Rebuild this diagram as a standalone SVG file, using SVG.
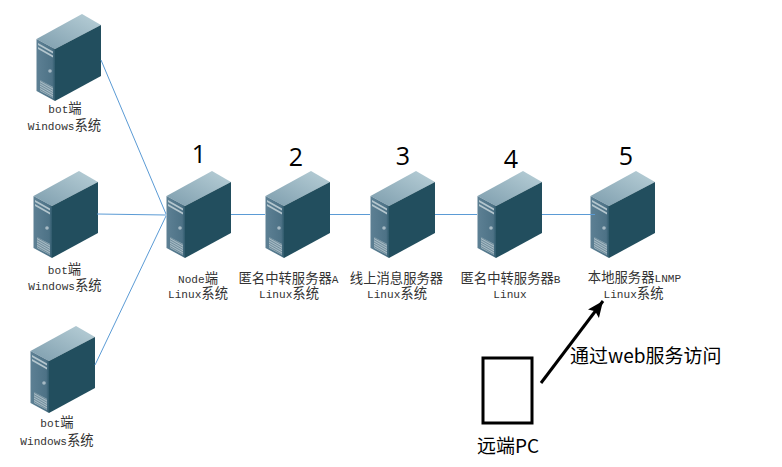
<svg xmlns="http://www.w3.org/2000/svg" width="782" height="467" viewBox="0 0 782 467">
<style>
.lb{font-family:"Liberation Mono","Noto Sans CJK SC",monospace;font-size:11.1px;fill:#333;text-anchor:middle}
.c{font-family:"Noto Sans CJK SC","Noto Sans",sans-serif;font-size:13.33px;font-weight:400}
.num{font-family:"Open Sans","Noto Sans",sans-serif;font-size:25px;fill:#000;text-anchor:middle}
.big{font-family:"Noto Sans CJK SC","Noto Sans",sans-serif;font-size:19px;fill:#000}
.link{stroke:#5b9bd5;stroke-width:1;fill:none}
</style>
<defs>
<linearGradient id="top" x1="0" y1="1" x2="1" y2="0"><stop offset="0" stop-color="#7d9dad"/><stop offset="1" stop-color="#b9d0d8"/></linearGradient>
<linearGradient id="front" x1="0" y1="0" x2="1" y2="0"><stop offset="0" stop-color="#5d8094"/><stop offset="0.85" stop-color="#4d7286"/><stop offset="1" stop-color="#2f5a6c"/></linearGradient>
<pattern id="hatch" width="2" height="2" patternUnits="userSpaceOnUse" patternTransform="rotate(30)"><rect width="2" height="2" fill="#6f8d9c"/><rect width="2" height="1" fill="#a9bcc6"/></pattern>
<marker id="ah" markerUnits="userSpaceOnUse" markerWidth="18" markerHeight="16" refX="16" refY="7" orient="auto"><path d="M0 0L16 7L0 14L3 7Z" fill="#000"/></marker>
<symbol id="srv" width="66" height="88" viewBox="0 0 66 88" overflow="visible">
<path d="M0.5 25L46 0L65 11L19 35Z" fill="url(#top)"/>
<path d="M19 35L65 11V62L19 87Z" fill="#224e5e"/>
<path d="M0.5 25L19 35V87L0.5 77Z" fill="url(#front)"/>
<path d="M2 29L17 37.5V39.5L2 31ZM2 33L17 41.5V43.5L2 35Z" fill="#b4c6ce"/>
<path d="M4 66L17 73V84L4 77Z" fill="url(#hatch)"/>
<circle cx="14" cy="57" r="1.8" fill="#a6bac4"/>
</symbol>
</defs>
<g id="bot1"><use href="#srv" x="36" y="14"/><text class="lb" x="65" y="113">bot<tspan class="c">端</tspan></text><text class="lb" x="64.500" y="130">Windows<tspan class="c">系统</tspan></text></g>
<g id="bot2"><use href="#srv" x="33" y="171"/><text class="lb" x="64.500" y="274">bot<tspan class="c">端</tspan></text><text class="lb" x="65" y="290">Windows<tspan class="c">系统</tspan></text></g>
<g id="bot3"><use href="#srv" x="30" y="326"/><text class="lb" x="57" y="427">bot<tspan class="c">端</tspan></text><text class="lb" x="57" y="445">Windows<tspan class="c">系统</tspan></text></g>
<g id="n1"><use href="#srv" x="166" y="171"/><text class="num" x="199" y="163">1</text><text class="lb" x="198" y="283">Node<tspan class="c">端</tspan></text><text class="lb" x="198" y="298">Linux<tspan class="c">系统</tspan></text></g>
<g id="n2"><use href="#srv" x="265" y="171"/><text class="num" x="296" y="166">2</text><text class="lb" x="288.500" y="283"><tspan class="c">匿名中转服务器</tspan>A</text><text class="lb" x="289" y="298">Linux<tspan class="c">系统</tspan></text></g>
<g id="n3"><use href="#srv" x="370" y="171"/><text class="num" x="403" y="165">3</text><text class="lb" x="396.500" y="283"><tspan class="c">线上消息服务器</tspan></text><text class="lb" x="397" y="298">Linux<tspan class="c">系统</tspan></text></g>
<g id="n4"><use href="#srv" x="477" y="171"/><text class="num" x="511" y="168">4</text><text class="lb" x="510.500" y="283"><tspan class="c">匿名中转服务器</tspan>B</text><text class="lb" x="510" y="298">Linux</text></g>
<g id="n5"><use href="#srv" x="590" y="171"/><text class="num" x="626" y="165">5</text><text class="lb" x="634.500" y="282"><tspan class="c">本地服务器</tspan>LNMP</text><text class="lb" x="633.500" y="298">Linux<tspan class="c">系统</tspan></text></g>
<g id="pc"><rect x="483" y="358" width="49" height="65" fill="#fff" stroke="#000" stroke-width="3"/><text class="big" x="477" y="453" font-size="19.500">远端PC</text></g>
<text class="big" x="570" y="363">通过web服务访问</text>
<g id="connectors">
<line class="link" x1="101" y1="60" x2="166" y2="214"/>
<line class="link" x1="97" y1="214" x2="166" y2="215"/>
<line class="link" x1="95" y1="365" x2="166" y2="216"/>
<line class="link" x1="231" y1="214.500" x2="265" y2="214.500"/>
<line class="link" x1="330" y1="214.500" x2="370" y2="214.500"/>
<line class="link" x1="435" y1="214.500" x2="477" y2="214.500"/>
<line class="link" x1="542" y1="214.500" x2="595" y2="214.500"/>
<line x1="541" y1="383" x2="603" y2="301" stroke="#000" stroke-width="3" marker-end="url(#ah)"/>
</g>
</svg>
